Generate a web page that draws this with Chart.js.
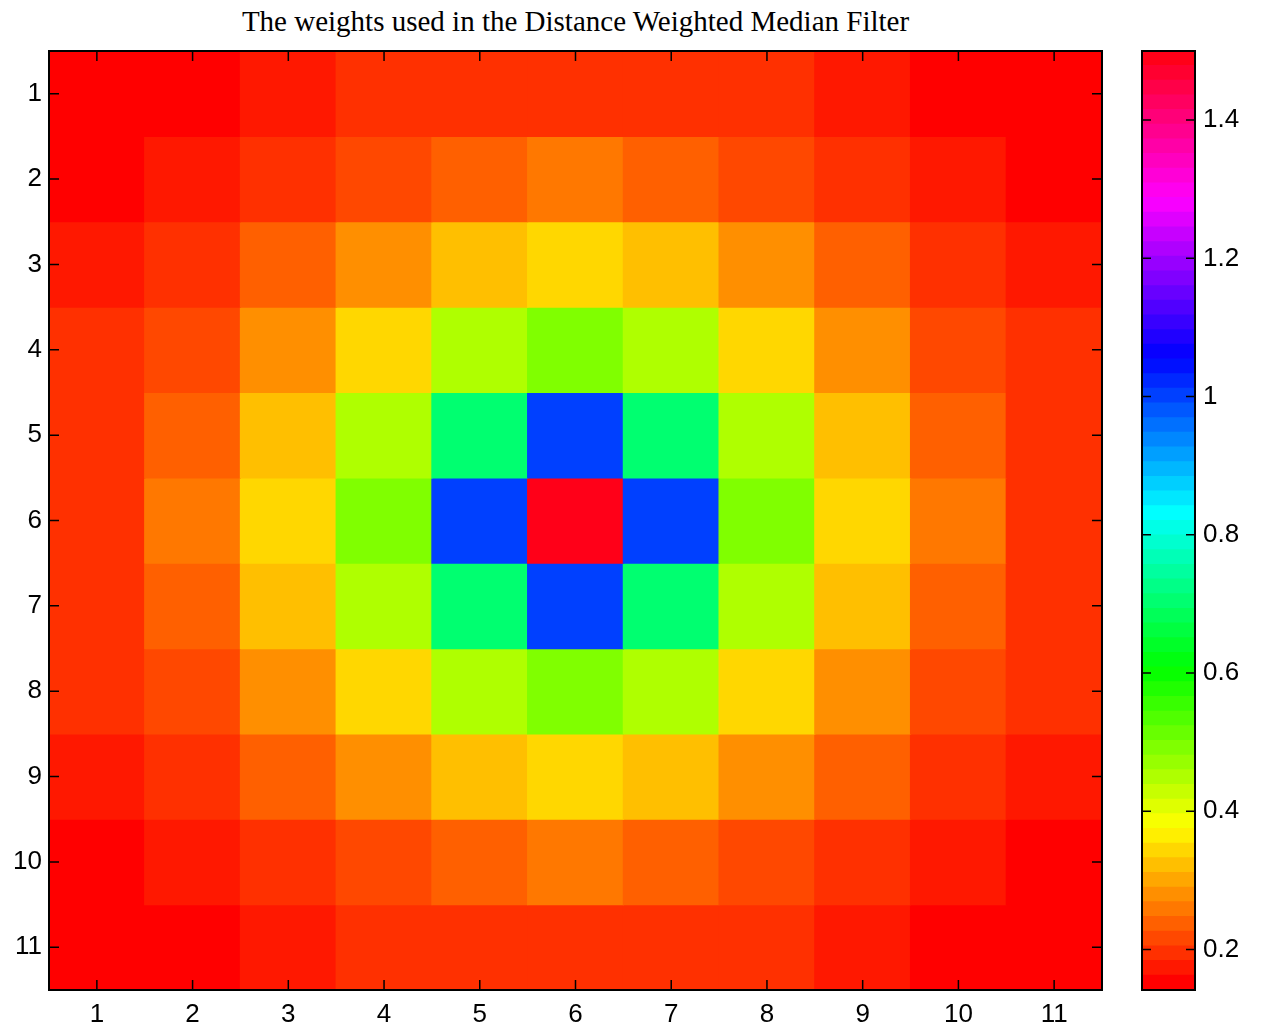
<!DOCTYPE html>
<html>
<head>
<meta charset="utf-8">
<title>Distance Weighted Median Filter weights</title>
<script src="https://cdn.jsdelivr.net/npm/chart.js@4.4.1/dist/chart.umd.min.js"></script>
<style>
  body { margin: 0; background: #fff; width: 1264px; height: 1030px; overflow: hidden; position: relative; }
  #title { position: absolute; left: 49px; width: 1053px; top: 4px; text-align: center; line-height: 34px;
           font-family: "Liberation Serif", serif; font-size: 29px; color: #000; }
  #mainBox { position: absolute; left: 0; top: 0; width: 1120px; height: 1030px; }
  #cbarBox { position: absolute; left: 1120px; top: 0; width: 144px; height: 1030px; }
</style>
</head>
<body>
<div id="title">The weights used in the Distance Weighted Median Filter</div>
<div id="mainBox"><canvas id="heat"></canvas></div>
<div id="cbarBox"><canvas id="cbar"></canvas></div>
<script>
// column / row labels of the 11x11 filter window
const colLabels = ['1', '2', '3', '4', '5', '6', '7', '8', '9', '10', '11'];
const rowLabels = [1, 2, 3, 4, 5, 6, 7, 8, 9, 10, 11];

// weights, row by row (row 1 at the top)
const weights = [
  [0.1414, 0.1562, 0.1715, 0.1857, 0.1961, 0.2000, 0.1961, 0.1857, 0.1715, 0.1562, 0.1414],
  [0.1562, 0.1768, 0.2000, 0.2236, 0.2425, 0.2500, 0.2425, 0.2236, 0.2000, 0.1768, 0.1562],
  [0.1715, 0.2000, 0.2357, 0.2774, 0.3162, 0.3333, 0.3162, 0.2774, 0.2357, 0.2000, 0.1715],
  [0.1857, 0.2236, 0.2774, 0.3535, 0.4472, 0.5000, 0.4472, 0.3535, 0.2774, 0.2236, 0.1857],
  [0.1961, 0.2425, 0.3162, 0.4472, 0.7071, 1.0000, 0.7071, 0.4472, 0.3162, 0.2425, 0.1961],
  [0.2000, 0.2500, 0.3333, 0.5000, 1.0000, 1.5000, 1.0000, 0.5000, 0.3333, 0.2500, 0.2000],
  [0.1961, 0.2425, 0.3162, 0.4472, 0.7071, 1.0000, 0.7071, 0.4472, 0.3162, 0.2425, 0.1961],
  [0.1857, 0.2236, 0.2774, 0.3535, 0.4472, 0.5000, 0.4472, 0.3535, 0.2774, 0.2236, 0.1857],
  [0.1715, 0.2000, 0.2357, 0.2774, 0.3162, 0.3333, 0.3162, 0.2774, 0.2357, 0.2000, 0.1715],
  [0.1562, 0.1768, 0.2000, 0.2236, 0.2425, 0.2500, 0.2425, 0.2236, 0.2000, 0.1768, 0.1562],
  [0.1414, 0.1562, 0.1715, 0.1857, 0.1961, 0.2000, 0.1961, 0.1857, 0.1715, 0.1562, 0.1414]
];

// colour scale limits and colorbar ticks
const cMin = 0.14142;
const cMax = 1.5;
const nColors = 64;
const cbarTicks = [0.2, 0.4, 0.6, 0.8, 1, 1.2, 1.4];

const tickFont = { family: '"Liberation Sans", Arial, sans-serif', size: 26 };

// hsv colormap entry k of nColors (hue k/nColors, full saturation and value)
function hsvColor(k) {
  const h = k / nColors * 6;
  const i = Math.floor(h);
  const f = h - i;
  const q = 1 - f;
  const sectors = [[1, f, 0], [q, 1, 0], [0, 1, f], [0, q, 1], [f, 0, 1], [1, 0, q]];
  const rgb = sectors[i % 6].map(c => Math.round(c * 255));
  return `rgb(${rgb[0]}, ${rgb[1]}, ${rgb[2]})`;
}

function valueColor(v) {
  let k = Math.floor((v - cMin) / (cMax - cMin) * nColors);
  k = Math.max(0, Math.min(nColors - 1, k));
  return hsvColor(k);
}

// box round the axes with inward ticks on all four sides
const framePlugin = {
  id: 'frame',
  afterDraw(chart) {
    const { ctx, chartArea: a, scales } = chart;
    const len = chart.options.plugins.frame.tickLen;
    ctx.save();
    ctx.strokeStyle = '#000';
    ctx.lineWidth = 1.5;
    ctx.beginPath();
    if (scales.x.options.display) {
      scales.x.ticks.forEach((t, i) => {
        const px = scales.x.getPixelForTick(i);
        ctx.moveTo(px, a.bottom); ctx.lineTo(px, a.bottom - len);
        ctx.moveTo(px, a.top); ctx.lineTo(px, a.top + len);
      });
    }
    scales.y.ticks.forEach((t, i) => {
      const py = scales.y.getPixelForTick(i);
      ctx.moveTo(a.left, py); ctx.lineTo(a.left + len, py);
      ctx.moveTo(a.right, py); ctx.lineTo(a.right - len, py);
    });
    ctx.stroke();
    ctx.lineWidth = 2;
    ctx.strokeRect(a.left, a.top, a.right - a.left, a.bottom - a.top);
    ctx.restore();
  }
};

// one dataset per row, each cell a floating bar spanning r-0.5 .. r+0.5
const heatSets = rowLabels.map((r, ri) => ({
  data: colLabels.map(() => [r - 0.5, r + 0.5]),
  backgroundColor: weights[ri].map(valueColor),
  borderWidth: 0,
  inflateAmount: 0.6,
  grouped: false,
  barPercentage: 1,
  categoryPercentage: 1
}));

new Chart(document.getElementById('heat'), {
  type: 'bar',
  data: { labels: colLabels, datasets: heatSets },
  plugins: [framePlugin],
  options: {
    responsive: true,
    maintainAspectRatio: false,
    animation: false,
    layout: { padding: { top: 51, right: 18, left: 0, bottom: 0 } },
    plugins: {
      legend: { display: false },
      tooltip: { enabled: false },
      frame: { tickLen: 10 }
    },
    scales: {
      x: {
        type: 'category',
        offset: true,
        grid: { display: false, drawTicks: false },
        border: { display: false },
        ticks: { font: tickFont, color: '#000', padding: 9, maxRotation: 0, autoSkip: false },
        afterFit: s => { s.height = 40; }
      },
      y: {
        type: 'linear',
        reverse: true,
        stacked: false,
        min: 0.5,
        max: 11.5,
        grid: { display: false, drawTicks: false },
        border: { display: false },
        ticks: { font: tickFont, color: '#000', padding: 7, callback: v => String(v) },
        afterBuildTicks: s => { s.ticks = rowLabels.map(v => ({ value: v })); },
        afterFit: s => { s.width = 49; }
      }
    }
  }
});

// colorbar: one floating bar per colormap level
const levelSets = [];
for (let k = 0; k < nColors; k++) {
  const lo = cMin + (cMax - cMin) * k / nColors;
  const hi = cMin + (cMax - cMin) * (k + 1) / nColors;
  levelSets.push({
    data: [[lo, hi]],
    backgroundColor: hsvColor(k),
    borderWidth: 0,
    inflateAmount: 0.6,
    grouped: false,
    barPercentage: 1,
    categoryPercentage: 1
  });
}

new Chart(document.getElementById('cbar'), {
  type: 'bar',
  data: { labels: [''], datasets: levelSets },
  plugins: [framePlugin],
  options: {
    responsive: true,
    maintainAspectRatio: false,
    animation: false,
    layout: { padding: { top: 51, right: 0, left: 22, bottom: 40 } },
    plugins: {
      legend: { display: false },
      tooltip: { enabled: false },
      frame: { tickLen: 9 }
    },
    scales: {
      x: { display: false, offset: true },
      y: {
        type: 'linear',
        position: 'right',
        min: cMin,
        max: cMax,
        grid: { display: false, drawTicks: false },
        border: { display: false },
        ticks: { font: tickFont, color: '#000', padding: 8, callback: v => String(v) },
        afterBuildTicks: s => { s.ticks = cbarTicks.map(v => ({ value: v })); },
        afterFit: s => { s.width = 69; }
      }
    }
  }
});
</script>
</body>
</html>
